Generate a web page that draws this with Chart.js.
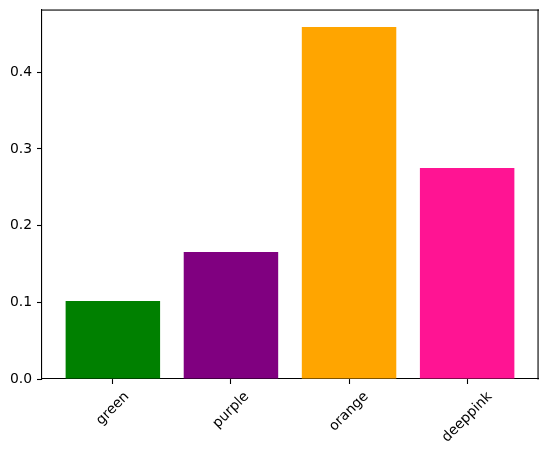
<!DOCTYPE html>
<html>
<head>
<meta charset="utf-8">
<script src="https://cdn.jsdelivr.net/npm/chart.js@4"></script>
<style>
html,body{margin:0;padding:0;background:#fff;}
#wrap{width:547px;height:454px;}
</style>
</head>
<body>
<div id="wrap"><canvas id="c" width="547" height="454"></canvas></div>
<script>
const categories = ['green', 'purple', 'orange', 'deeppink'];
const values = [0.1017, 0.1656, 0.459, 0.275];
const barColors = ['#008000', '#800080', '#FFA500', '#FF1493'];
const yTicks = [0, 0.1, 0.2, 0.3, 0.4];
const yMax = 0.4818;

const FONT = '13.9px "DejaVu Sans"';

const framePlugin = {
  id: 'frame',
  afterDatasetsDraw(chart) {
    const {ctx, chartArea: a} = chart;
    ctx.save();
    ctx.fillStyle = '#000';
    const L = Math.round(a.left), T = Math.round(a.top), R = Math.round(a.right), B = Math.round(a.bottom);
    ctx.fillRect(L, T - 0.5, R - L + 1, 1.1);   // top spine
    ctx.fillRect(R - 0.5, T - 0.5, 1.1, B - T + 1); // right spine
    ctx.restore();
  },
  afterDraw(chart) {
    const {ctx, chartArea: a} = chart;
    ctx.save();
    const xs = chart.scales.x;
    ctx.font = FONT;
    ctx.fillStyle = '#000';
    ctx.textAlign = 'center';
    ctx.textBaseline = 'middle';
    const h = 13.9 * 1.16;
    const top = a.bottom + 4.9 + 4.9;
    categories.forEach((lab, i) => {
      const w = ctx.measureText(lab).width;
      const px = xs.getPixelForValue(i);
      const cy = top + (w + h) * Math.SQRT1_2 / 2;
      ctx.save();
      ctx.translate(px, cy);
      ctx.rotate(-Math.PI / 4);
      ctx.fillText(lab, 0, 0);
      ctx.restore();
    });
    ctx.restore();
  }
};

new Chart(document.getElementById('c'), {
  type: 'bar',
  data: {
    datasets: [{
      data: categories.map((c, i) => ({x: i, y: values[i]})),
      backgroundColor: barColors,
      borderWidth: 0,
      categoryPercentage: 1.0,
      barPercentage: 0.8
    }]
  },
  options: {
    responsive: false,
    animation: false,
    devicePixelRatio: 1,
    layout: {padding: {top: 9.5, right: 9, left: 0, bottom: 0}},
    plugins: {legend: {display: false}, tooltip: {enabled: false}},
    scales: {
      x: {
        type: 'linear',
        offset: false,
        min: -0.6,
        max: 3.6,
        afterBuildTicks(s) { s.ticks = categories.map((c, i) => ({value: i})); },
        afterFit(s) { s.height = 75; s.paddingLeft = 0; s.paddingRight = 0; },
        ticks: {display: false},
        grid: {offset: false, drawOnChartArea: false, drawTicks: true, tickLength: 5, color: '#000', tickWidth: 1.1},
        border: {display: true, color: '#000', width: 1.1}
      },
      y: {
        min: 0,
        max: yMax,
        afterBuildTicks(s) { s.ticks = yTicks.map(v => ({value: v})); },
        afterFit(s) { s.width = 42; s.paddingTop = 0; s.paddingBottom = 0; },
        ticks: {
          padding: 5,
          color: '#000',
          font: {family: 'DejaVu Sans', size: 13.9},
          callback: v => Number(v).toFixed(1)
        },
        grid: {drawOnChartArea: false, drawTicks: true, tickLength: 5, color: '#000', tickWidth: 1.1},
        border: {display: true, color: '#000', width: 1.1}
      }
    }
  },
  plugins: [framePlugin]
});
</script>
</body>
</html>
